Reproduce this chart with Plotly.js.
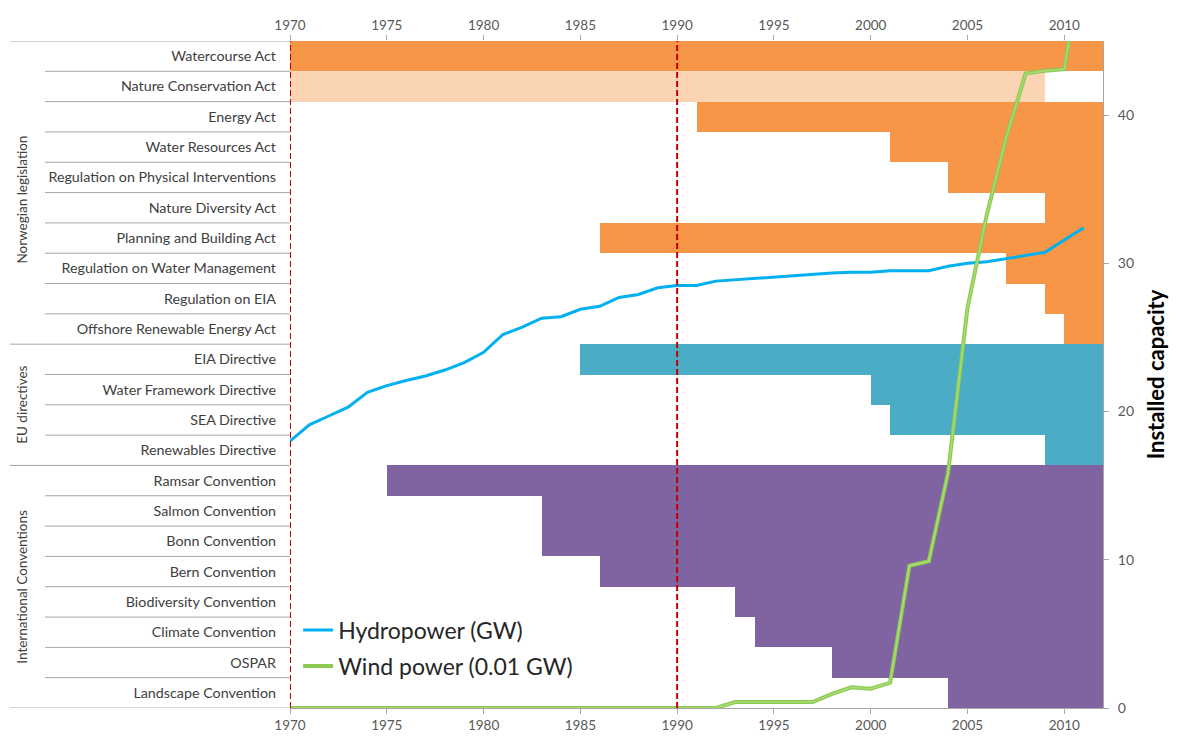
<!DOCTYPE html>
<html>
<head>
<meta charset="utf-8">
<script src="https://cdn.plot.ly/plotly-3.0.1.min.js"></script>
<style>html,body{margin:0;padding:0;background:#fff;}#chart{width:1180px;height:736px;}</style>
</head>
<body>
<div id="chart"></div>
<script>
// ---------- data ----------
const laws = [
  "Watercourse Act", "Nature Conservation Act", "Energy Act", "Water Resources Act",
  "Regulation on Physical Interventions", "Nature Diversity Act", "Planning and Building Act",
  "Regulation on Water Management", "Regulation on EIA", "Offshore Renewable Energy Act",
  "EIA Directive", "Water Framework Directive", "SEA Directive", "Renewables Directive",
  "Ramsar Convention", "Salmon Convention", "Bonn Convention", "Bern Convention",
  "Biodiversity Convention", "Climate Convention", "OSPAR", "Landscape Convention"
];
const lawGroup = [
  "nor","old","nor","nor","nor","nor","nor","nor","nor","nor",
  "eu","eu","eu","eu",
  "int","int","int","int","int","int","int","int"
];
const startYear = [1970,1970,1991,2001,2004,2009,1986,2007,2009,2010,
                   1985,2000,2001,2009,
                   1975,1983,1983,1986,1993,1994,1998,2004];
const endYear   = [2012,2009,2012,2012,2012,2012,2012,2012,2012,2012,
                   2012,2012,2012,2012,
                   2012,2012,2012,2012,2012,2012,2012,2012];
const groupNames = ["Norwegian legislation", "EU directives", "International Conventions"];
const groupFirst = [0, 10, 14];
const groupLast  = [9, 13, 21];
const markerYears = [1970, 1990];

const hydroYears = [1970,1971,1972,1973,1974,1975,1976,1977,1978,1979,
                    1980,1981,1982,1983,1984,1985,1986,1987,1988,1989,
                    1990,1991,1992,1993,1994,1995,1996,1997,1998,1999,
                    2000,2001,2002,2003,2004,2005,2006,2007,2008,2009,2011];
const hydroGW = [18.0,19.1,19.7,20.3,21.3,21.75,22.1,22.4,22.8,23.3,
                 24.0,25.2,25.7,26.3,26.4,26.9,27.1,27.7,27.9,28.35,
                 28.5,28.5,28.8,28.9,29.0,29.1,29.2,29.3,29.35,29.4,
                 29.4,29.5,29.5,29.5,29.8,30.0,30.1,30.3,30.5,30.75,32.4];
const windYears = [1970,1971,1972,1973,1974,1975,1976,1977,1978,1979,
                   1980,1981,1982,1983,1984,1985,1986,1987,1988,1989,
                   1990,1991,1992,1993,1994,1995,1996,1997,1998,1999,
                   2000,2001,2002,2003,2004,2005,2006,2007,2008,2009,2010,2011];
const wind001GW = [0,0,0,0,0,0,0,0,0,0,
                   0,0,0,0,0,0,0,0,0,0,
                   0,0,0,0.4,0.4,0.4,0.4,0.4,0.95,1.4,
                   1.3,1.7,9.6,9.9,15.9,27.0,33.3,38.5,42.8,43.0,43.1,51];
const xTicks = [1970,1975,1980,1985,1990,1995,2000,2005,2010];
const capTicks = [0,10,20,30,40];

// ---------- styles ----------
const groupColor = {nor:"#F79646", old:"#FBD4B4", eu:"#4BACC6", int:"#8064A2"};
const FONT = "Lato, 'Liberation Sans', Arial, sans-serif";
const TXT = "#404040";
const GRID = "#A6A6A6";

// ---------- traces ----------
const traces = [];
Object.keys(groupColor).forEach(g => {
  const idx = laws.map((_, i) => i).filter(i => lawGroup[i] === g);
  traces.push({
    type: "bar", orientation: "h",
    y: idx, base: idx.map(i => startYear[i]), x: idx.map(i => endYear[i] - startYear[i]),
    width: 1, marker: {color: groupColor[g], line: {width: 0}},
    showlegend: false, hoverinfo: "skip", xaxis: "x", yaxis: "y"
  });
});
traces.push({
  type: "scatter", mode: "lines", x: hydroYears, y: hydroGW, name: "Hydropower (GW)",
  line: {color: "#00B0F0", width: 3}, xaxis: "x", yaxis: "y2", legendgroup: "a"
});
traces.push({
  type: "scatter", mode: "lines", x: windYears, y: wind001GW, name: "Wind power (0.01 GW)",
  line: {color: "#8CCB50", width: 4}, xaxis: "x", yaxis: "y2", legendgroup: "b"
});
traces.push({
  type: "scatter", mode: "lines", x: windYears, y: wind001GW, showlegend: false,
  line: {color: "#A9DC78", width: 1.5}, xaxis: "x", yaxis: "y2", hoverinfo: "skip"
});
traces.push({type: "scatter", x: [1970], y: [0], xaxis: "x2", yaxis: "y", mode: "none", showlegend: false, hoverinfo: "skip"});

// ---------- shapes / annotations ----------
const shapes = [];
const labelLeftPx = 45, groupLeftPx = 10, plotLeft = 290, plotW = 813;
for (let i = 0; i < laws.length - 1; i++) {
  const isGroupEdge = groupLast.includes(i);
  const left = isGroupEdge ? groupLeftPx : labelLeftPx;
  shapes.push({type: "line", xref: "paper", yref: "y", x0: (left - plotLeft) / plotW, x1: 0,
    y0: i + 0.5, y1: i + 0.5, line: {color: GRID, width: 1}});
}
[-0.5, laws.length - 0.5].forEach(v => shapes.push({type: "line", xref: "paper", yref: "y",
  x0: (groupLeftPx - plotLeft) / plotW, x1: 0, y0: v, y1: v, line: {color: GRID, width: 1}}));
markerYears.forEach(yr => shapes.push({type: "line", xref: "x", yref: "paper", x0: yr, x1: yr,
  y0: 0, y1: 1, layer: "above", line: {color: "#C00000", width: 2, dash: "6px,3px"}}));

const groupShift = [-7, 0, 0];
const annotations = groupNames.map((g, k) => ({
  text: g, xref: "paper", yref: "y", x: (22 - plotLeft) / plotW, y: (groupFirst[k] + groupLast[k]) / 2,
  yshift: groupShift[k],
  textangle: -90, showarrow: false, xanchor: "center", yanchor: "middle",
  font: {family: FONT, size: 13.5, color: TXT}
}));

const layout = {
  width: 1180, height: 736,
  margin: {l: 290, r: 77, t: 41, b: 28, pad: 0},
  paper_bgcolor: "#fff", plot_bgcolor: "#fff",
  barmode: "overlay", bargap: 0,
  font: {family: FONT, color: TXT},
  xaxis: {range: [1970, 2012], tickvals: xTicks, ticks: "outside", ticklen: 5, tickcolor: GRID,
    showline: true, linecolor: GRID, showgrid: false, zeroline: false,
    tickfont: {family: FONT, size: 13.5, color: "#595959"}, fixedrange: true},
  xaxis2: {range: [1970, 2012], overlaying: "x", side: "top", tickvals: xTicks, ticks: "outside",
    ticklen: 5, tickcolor: GRID, showline: false, showgrid: false, zeroline: false,
    tickfont: {family: FONT, size: 13.5, color: "#595959"}, fixedrange: true},
  yaxis: {range: [laws.length - 0.5, -0.5], tickvals: laws.map((_, i) => i), ticktext: laws,
    ticks: "", showline: false, showgrid: false, zeroline: false, ticklabelstandoff: 13,
    tickfont: {family: FONT, size: 14.3, color: TXT}, fixedrange: true},
  yaxis2: {range: [0, 45], overlaying: "y", side: "right", tickvals: capTicks, ticks: "outside",
    ticklen: 5, tickcolor: GRID, showline: true, linecolor: GRID, showgrid: false, zeroline: false,
    ticklabelstandoff: 6,
    tickfont: {family: FONT, size: 14, color: "#595959"},
    title: {text: "Installed capacity", font: {family: FONT, size: 22, color: "#000", weight: "bold"}, standoff: 15},
    fixedrange: true},
  showlegend: true,
  legend: {x: 0.01, y: 0.149, xanchor: "left", yanchor: "top", bgcolor: "rgba(0,0,0,0)",
    traceorder: "grouped", tracegroupgap: 3, itemwidth: 30,
    font: {family: FONT, size: 23, color: "#262626"}},
  shapes: shapes, annotations: annotations
};

Plotly.newPlot("chart", traces, layout, {displayModeBar: false, staticPlot: true});
</script>
</body>
</html>
